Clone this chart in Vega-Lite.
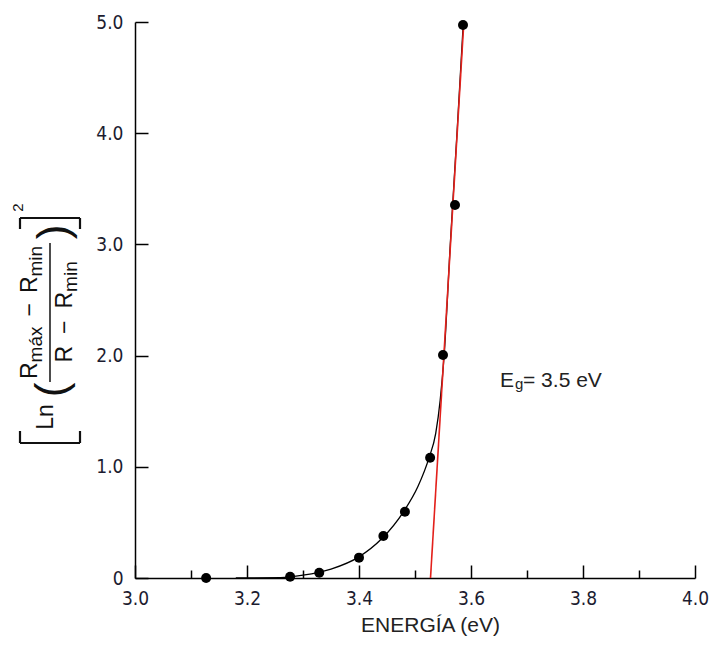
{
  "$schema": "https://vega.github.io/schema/vega-lite/v6.json",
  "width": 560,
  "height": 556,
  "autosize": {"type": "none"},
  "padding": {"left": 135, "top": 22, "right": 15, "bottom": 68},
  "background": "white",
  "config": {
    "view": {"stroke": null},
    "axis": {
      "grid": false,
      "domainColor": "#000000",
      "domainWidth": 1.5,
      "tickColor": "#000000",
      "tickWidth": 1.5,
      "labelFont": "DejaVu Sans Condensed, DejaVu Sans",
      "labelFontSize": 19,
      "labelColor": "#1c1c30"
    }
  },
  "resolve": {"axis": {"x": "independent"}},
  "datasets": {
    "measured": [
      {"energy": 3.127, "value": 0.0},
      {"energy": 3.277, "value": 0.012},
      {"energy": 3.329, "value": 0.048},
      {"energy": 3.4, "value": 0.183},
      {"energy": 3.4435, "value": 0.378},
      {"energy": 3.482, "value": 0.596},
      {"energy": 3.527, "value": 1.082},
      {"energy": 3.55, "value": 2.005},
      {"energy": 3.5714, "value": 3.354},
      {"energy": 3.5857, "value": 4.973}
    ],
    "fit": [
      {"energy": 3.18, "value": 0.0},
      {"energy": 3.26, "value": 0.003},
      {"energy": 3.3, "value": 0.025},
      {"energy": 3.35, "value": 0.08},
      {"energy": 3.4, "value": 0.19},
      {"energy": 3.44, "value": 0.35},
      {"energy": 3.48, "value": 0.6},
      {"energy": 3.505, "value": 0.82},
      {"energy": 3.525, "value": 1.08},
      {"energy": 3.537, "value": 1.3},
      {"energy": 3.545, "value": 1.6},
      {"energy": 3.552, "value": 2.0},
      {"energy": 3.563, "value": 3.0},
      {"energy": 3.575, "value": 4.0},
      {"energy": 3.586, "value": 4.97}
    ],
    "tangent": [
      {"energy": 3.5277, "value": 0.0},
      {"energy": 3.587, "value": 4.98}
    ]
  },
  "layer": [
    {
      "data": {"name": "fit"},
      "mark": {"type": "line", "color": "#000000", "strokeWidth": 1.3, "interpolate": "monotone"},
      "encoding": {
        "x": {
          "field": "energy",
          "type": "quantitative",
          "scale": {"domain": [3, 4], "nice": false, "zero": false},
          "axis": {
            "orient": "bottom",
            "values": [3, 3.2, 3.4, 3.6, 3.8, 4],
            "format": ".1f",
            "ticks": true,
            "tickSize": -13,
            "labelPadding": 24,
            "labelFlush": false,
            "title": "ENERGÍA (eV)",
            "titleFont": "Liberation Sans",
            "titleFontSize": 21,
            "titleFontWeight": "normal",
            "titleColor": "#222222",
            "titlePadding": 6,
            "titleX": 295
          }
        },
        "y": {
          "field": "value",
          "type": "quantitative",
          "scale": {"domain": [0, 5], "nice": false, "zero": false},
          "axis": {
            "values": [0, 1, 2, 3, 4, 5],
            "labelExpr": "datum.value == 0 ? '0' : format(datum.value, '.1f')",
            "tickSize": -13,
            "labelPadding": 25,
            "title": null
          }
        }
      }
    },
    {
      "data": {"name": "tangent"},
      "mark": {"type": "line", "color": "#e3201b", "strokeWidth": 1.6},
      "encoding": {
        "x": {
          "field": "energy",
          "type": "quantitative",
          "axis": {
            "orient": "bottom",
            "values": [3.1, 3.3, 3.5, 3.7, 3.9],
            "labels": false,
            "domain": false,
            "ticks": true,
            "tickSize": -8,
            "title": null
          }
        },
        "y": {"field": "value", "type": "quantitative"}
      }
    },
    {
      "data": {"name": "measured"},
      "mark": {"type": "point", "shape": "circle", "filled": true, "size": 100, "color": "#000000", "opacity": 1},
      "encoding": {
        "x": {"field": "energy", "type": "quantitative", "axis": null},
        "y": {"field": "value", "type": "quantitative"}
      }
    },
    {
      "data": {"values": [{}]},
      "mark": {"type": "text", "angle": 270, "align": "left", "baseline": "alphabetic", "font": "Liberation Sans", "fontSize": 23, "color": "#111111"},
      "encoding": {"x": {"datum": 2.825, "type": "quantitative", "axis": null}, "y": {"datum": 1.7896, "type": "quantitative"}, "text": {"value": "R"}}
    },
    {
      "data": {"values": [{}]},
      "mark": {"type": "text", "angle": 270, "align": "left", "baseline": "alphabetic", "font": "Liberation Sans", "fontSize": 19, "color": "#111111"},
      "encoding": {"x": {"datum": 2.83393, "type": "quantitative", "axis": null}, "y": {"datum": 1.9388, "type": "quantitative"}, "text": {"value": "máx"}}
    },
    {
      "data": {"values": [{}]},
      "mark": {"type": "text", "angle": 270, "align": "left", "baseline": "alphabetic", "font": "Liberation Sans", "fontSize": 23, "color": "#111111"},
      "encoding": {"x": {"datum": 2.825, "type": "quantitative", "axis": null}, "y": {"datum": 2.3516, "type": "quantitative"}, "text": {"value": "−"}}
    },
    {
      "data": {"values": [{}]},
      "mark": {"type": "text", "angle": 270, "align": "left", "baseline": "alphabetic", "font": "Liberation Sans", "fontSize": 23, "color": "#111111"},
      "encoding": {"x": {"datum": 2.825, "type": "quantitative", "axis": null}, "y": {"datum": 2.562, "type": "quantitative"}, "text": {"value": "R"}}
    },
    {
      "data": {"values": [{}]},
      "mark": {"type": "text", "angle": 270, "align": "left", "baseline": "alphabetic", "font": "Liberation Sans", "fontSize": 19, "color": "#111111"},
      "encoding": {"x": {"datum": 2.83393, "type": "quantitative", "axis": null}, "y": {"datum": 2.7113, "type": "quantitative"}, "text": {"value": "min"}}
    },
    {
      "data": {"values": [{}]},
      "mark": {"type": "text", "angle": 270, "align": "left", "baseline": "alphabetic", "font": "Liberation Sans", "fontSize": 23, "color": "#111111"},
      "encoding": {"x": {"datum": 2.8875, "type": "quantitative", "axis": null}, "y": {"datum": 1.938, "type": "quantitative"}, "text": {"value": "R"}}
    },
    {
      "data": {"values": [{}]},
      "mark": {"type": "text", "angle": 270, "align": "left", "baseline": "alphabetic", "font": "Liberation Sans", "fontSize": 23, "color": "#111111"},
      "encoding": {"x": {"datum": 2.8875, "type": "quantitative", "axis": null}, "y": {"datum": 2.1951, "type": "quantitative"}, "text": {"value": "−"}}
    },
    {
      "data": {"values": [{}]},
      "mark": {"type": "text", "angle": 270, "align": "left", "baseline": "alphabetic", "font": "Liberation Sans", "fontSize": 23, "color": "#111111"},
      "encoding": {"x": {"datum": 2.8875, "type": "quantitative", "axis": null}, "y": {"datum": 2.4236, "type": "quantitative"}, "text": {"value": "R"}}
    },
    {
      "data": {"values": [{}]},
      "mark": {"type": "text", "angle": 270, "align": "left", "baseline": "alphabetic", "font": "Liberation Sans", "fontSize": 19, "color": "#111111"},
      "encoding": {"x": {"datum": 2.89643, "type": "quantitative", "axis": null}, "y": {"datum": 2.5729, "type": "quantitative"}, "text": {"value": "min"}}
    },
    {
      "data": {"values": [{}]},
      "mark": {"type": "rule", "color": "#111111", "strokeWidth": 1.5},
      "encoding": {"x": {"datum": 2.84821, "type": "quantitative", "axis": null}, "y": {"datum": 3.0126, "type": "quantitative"}, "y2": {"datum": 1.7626}}
    },
    {
      "data": {"values": [{}]},
      "mark": {"type": "text", "angle": 270, "align": "center", "baseline": "middle", "font": "Liberation Sans", "fontSize": 44, "color": "#111111"},
      "encoding": {"x": {"datum": 2.85268, "type": "quantitative", "axis": null}, "y": {"datum": 1.6906, "type": "quantitative"}, "text": {"value": "("}}
    },
    {
      "data": {"values": [{}]},
      "mark": {"type": "text", "angle": 270, "align": "center", "baseline": "middle", "font": "Liberation Sans", "fontSize": 44, "color": "#111111"},
      "encoding": {"x": {"datum": 2.85714, "type": "quantitative", "axis": null}, "y": {"datum": 3.1115, "type": "quantitative"}, "text": {"value": ")"}}
    },
    {
      "data": {"values": [{}]},
      "mark": {"type": "text", "angle": 270, "align": "center", "baseline": "middle", "font": "Liberation Sans", "fontSize": 23, "color": "#111111"},
      "encoding": {"x": {"datum": 2.84107, "type": "quantitative", "axis": null}, "y": {"datum": 1.4478, "type": "quantitative"}, "text": {"value": "Ln"}}
    },
    {
      "data": {"values": [{}]},
      "mark": {"type": "text", "angle": 270, "align": "center", "baseline": "middle", "font": "Liberation Sans", "fontSize": 15, "color": "#111111"},
      "encoding": {"x": {"datum": 2.79018, "type": "quantitative", "axis": null}, "y": {"datum": 3.3318, "type": "quantitative"}, "text": {"value": "2"}}
    },
    {
      "data": {"values": [{}]},
      "mark": {"type": "rule", "color": "#111111", "strokeWidth": 2.2},
      "encoding": {"y": {"datum": 1.214, "type": "quantitative"}, "x": {"datum": 2.79464, "type": "quantitative", "axis": null}, "x2": {"datum": 2.90179}}
    },
    {
      "data": {"values": [{}]},
      "mark": {"type": "rule", "color": "#111111", "strokeWidth": 2.2},
      "encoding": {"x": {"datum": 2.79464, "type": "quantitative", "axis": null}, "y": {"datum": 1.214, "type": "quantitative"}, "y2": {"datum": 1.3219}}
    },
    {
      "data": {"values": [{}]},
      "mark": {"type": "rule", "color": "#111111", "strokeWidth": 2.2},
      "encoding": {"x": {"datum": 2.90179, "type": "quantitative", "axis": null}, "y": {"datum": 1.214, "type": "quantitative"}, "y2": {"datum": 1.3219}}
    },
    {
      "data": {"values": [{}]},
      "mark": {"type": "rule", "color": "#111111", "strokeWidth": 2.2},
      "encoding": {"y": {"datum": 3.2374, "type": "quantitative"}, "x": {"datum": 2.79464, "type": "quantitative", "axis": null}, "x2": {"datum": 2.90179}}
    },
    {
      "data": {"values": [{}]},
      "mark": {"type": "rule", "color": "#111111", "strokeWidth": 2.2},
      "encoding": {"x": {"datum": 2.79464, "type": "quantitative", "axis": null}, "y": {"datum": 3.2374, "type": "quantitative"}, "y2": {"datum": 3.1385}}
    },
    {
      "data": {"values": [{}]},
      "mark": {"type": "rule", "color": "#111111", "strokeWidth": 2.2},
      "encoding": {"x": {"datum": 2.90179, "type": "quantitative", "axis": null}, "y": {"datum": 3.2374, "type": "quantitative"}, "y2": {"datum": 3.1385}}
    },
    {
      "data": {"values": [{}]},
      "mark": {"type": "text", "align": "left", "baseline": "alphabetic", "font": "Liberation Sans", "fontSize": 21, "color": "#222222"},
      "encoding": {"x": {"datum": 3.6518, "type": "quantitative", "axis": null}, "y": {"datum": 1.7176, "type": "quantitative"}, "text": {"value": "E"}}
    },
    {
      "data": {"values": [{}]},
      "mark": {"type": "text", "align": "left", "baseline": "alphabetic", "font": "Liberation Sans", "fontSize": 15, "color": "#222222"},
      "encoding": {"x": {"datum": 3.6786, "type": "quantitative", "axis": null}, "y": {"datum": 1.7, "type": "quantitative"}, "text": {"value": "g"}}
    },
    {
      "data": {"values": [{}]},
      "mark": {"type": "text", "align": "left", "baseline": "alphabetic", "font": "Liberation Sans", "fontSize": 21, "color": "#222222"},
      "encoding": {"x": {"datum": 3.6929, "type": "quantitative", "axis": null}, "y": {"datum": 1.7176, "type": "quantitative"}, "text": {"value": "= 3.5 eV"}}
    }
  ]
}
